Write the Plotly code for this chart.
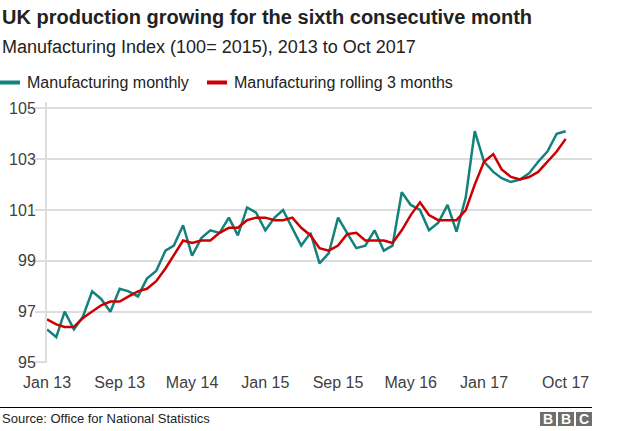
import pandas as pd
import plotly.graph_objects as go

# ---- data ----
months = pd.date_range("2013-01-01", "2017-10-01", freq="MS")
monthly = [96.3, 96.0, 97.0, 96.3, 96.8, 97.8, 97.5, 97.0, 97.9, 97.8, 97.6, 98.3,
           98.6, 99.4, 99.6, 100.4, 99.2, 99.9, 100.2, 100.1, 100.7, 100.0, 101.1, 100.9,
           100.2, 100.7, 101.0, 100.3, 99.6, 100.1, 98.9, 99.3, 100.7, 100.1, 99.5, 99.6,
           100.2, 99.4, 99.6, 101.7, 101.2, 101.0, 100.2, 100.5, 101.2, 100.15, 101.5, 104.1,
           102.9, 102.5, 102.25, 102.1, 102.2, 102.45, 102.9, 103.3, 104.0, 104.1]
rolling3 = [96.7, 96.5, 96.4, 96.4, 96.75, 97.0, 97.25, 97.4, 97.4, 97.6, 97.8, 97.9,
            98.2, 98.7, 99.2, 99.8, 99.7, 99.8, 99.8, 100.1, 100.3, 100.3, 100.6, 100.7,
            100.7, 100.6, 100.6, 100.7, 100.3, 100.0, 99.5, 99.4, 99.6, 100.05, 100.1, 99.8,
            99.8, 99.8, 99.7, 100.2, 100.8, 101.3, 100.8, 100.6, 100.6, 100.6, 101.0, 102.0,
            102.9, 103.2, 102.6, 102.3, 102.2, 102.3, 102.5, 102.9, 103.3, 103.8]
tick_dates = ["2013-01-01", "2013-09-01", "2014-05-01", "2015-01-01",
              "2015-09-01", "2016-05-01", "2017-01-01", "2017-10-01"]
tick_labels = ["Jan 13", "Sep 13", "May 14", "Jan 15", "Sep 15", "May 16", "Jan 17", "Oct 17"]
y_ticks = [95, 97, 99, 101, 103, 105]
series_names = ["Manufacturing monthly", "Manufacturing rolling 3 months"]
series_colors = ["#13827c", "#cc0000"]

# ---- geometry ----
W, H = 624, 431
ML, MR, MT, MB = 47, 32, 102, 68
PW, PH = W - ML - MR, H - MT - MB
FONT = "Arial, Liberation Sans, sans-serif"


def px(x):
    return (x - ML) / PW


def py(y):
    return (H - MB - y) / PH


fig = go.Figure()
for vals, name, col in zip([monthly, rolling3], series_names, series_colors):
    fig.add_trace(go.Scatter(x=months, y=vals, mode="lines", name=name,
                             line=dict(color=col, width=2.5), showlegend=False))

fig.update_layout(
    width=W, height=H,
    margin=dict(l=ML, r=MR, t=MT, b=MB, pad=0, autoexpand=False),
    paper_bgcolor="white", plot_bgcolor="white",
    font=dict(family=FONT, color="#404040", size=16),
    xaxis=dict(range=["2013-01-01", "2017-12-28"], tickvals=tick_dates, ticktext=tick_labels,
               showgrid=False, zeroline=False, showline=False, ticks="", automargin=False,
               ticklabelstandoff=8, tickfont=dict(size=16, color="#404040")),
    yaxis=dict(range=[94.98, 105.25], tickvals=y_ticks, showgrid=True, gridcolor="#dddddd",
               gridwidth=2, zeroline=False, showline=True, linecolor="#dddddd", linewidth=2,
               ticks="outside", ticklen=10, tickcolor="#dddddd", tickwidth=2, automargin=False,
               ticklabelstandoff=-4, tickfont=dict(size=16, color="#404040")),
)

ann = []
# title and subtitle
ann.append(dict(text="<b>UK production growing for the sixth consecutive month</b>",
                x=px(0), y=py(17), xanchor="left", yanchor="middle",
                font=dict(size=20, color="#222222")))
ann.append(dict(text="Manufacturing Index (100= 2015), 2013 to Oct 2017",
                x=px(0), y=py(47), xanchor="left", yanchor="middle",
                font=dict(size=18, color="#222222")))
# legend
shapes = []
leg_x = [0, 207]
for lx, name, col in zip(leg_x, series_names, series_colors):
    shapes.append(dict(type="line", xref="paper", yref="paper", x0=px(lx), x1=px(lx + 20),
                       y0=py(82.5), y1=py(82.5), line=dict(color=col, width=4)))
    ann.append(dict(text=name, x=px(lx + 25), y=py(82), xanchor="left", yanchor="middle",
                    font=dict(size=16, color="#222222")))
# separator and source
shapes.append(dict(type="line", xref="paper", yref="paper", x0=px(0), x1=px(592),
                   y0=py(407.5), y1=py(407.5), line=dict(color="#000000", width=1)))
ann.append(dict(text="Source: Office for National Statistics", x=px(0), y=py(418),
                xanchor="left", yanchor="middle", font=dict(size=13, color="#222222")))
# BBC blocks
for i, letter in enumerate(["B", "B", "C"]):
    x0 = 540 + i * 18
    shapes.append(dict(type="rect", xref="paper", yref="paper", x0=px(x0), x1=px(x0 + 16),
                       y0=py(426), y1=py(412), fillcolor="#6e6e6e", line=dict(width=0)))
    ann.append(dict(text="<b>%s</b>" % letter, x=px(x0 + 8), y=py(419), xanchor="center",
                    yanchor="middle", font=dict(size=14, color="white")))

for a in ann:
    a.update(xref="paper", yref="paper", showarrow=False)
fig.update_layout(annotations=ann, shapes=shapes)

fig.write_html("out.html", config={"displayModeBar": False},
               post_script="document.body.style.margin='0';document.body.style.overflow='hidden';")
